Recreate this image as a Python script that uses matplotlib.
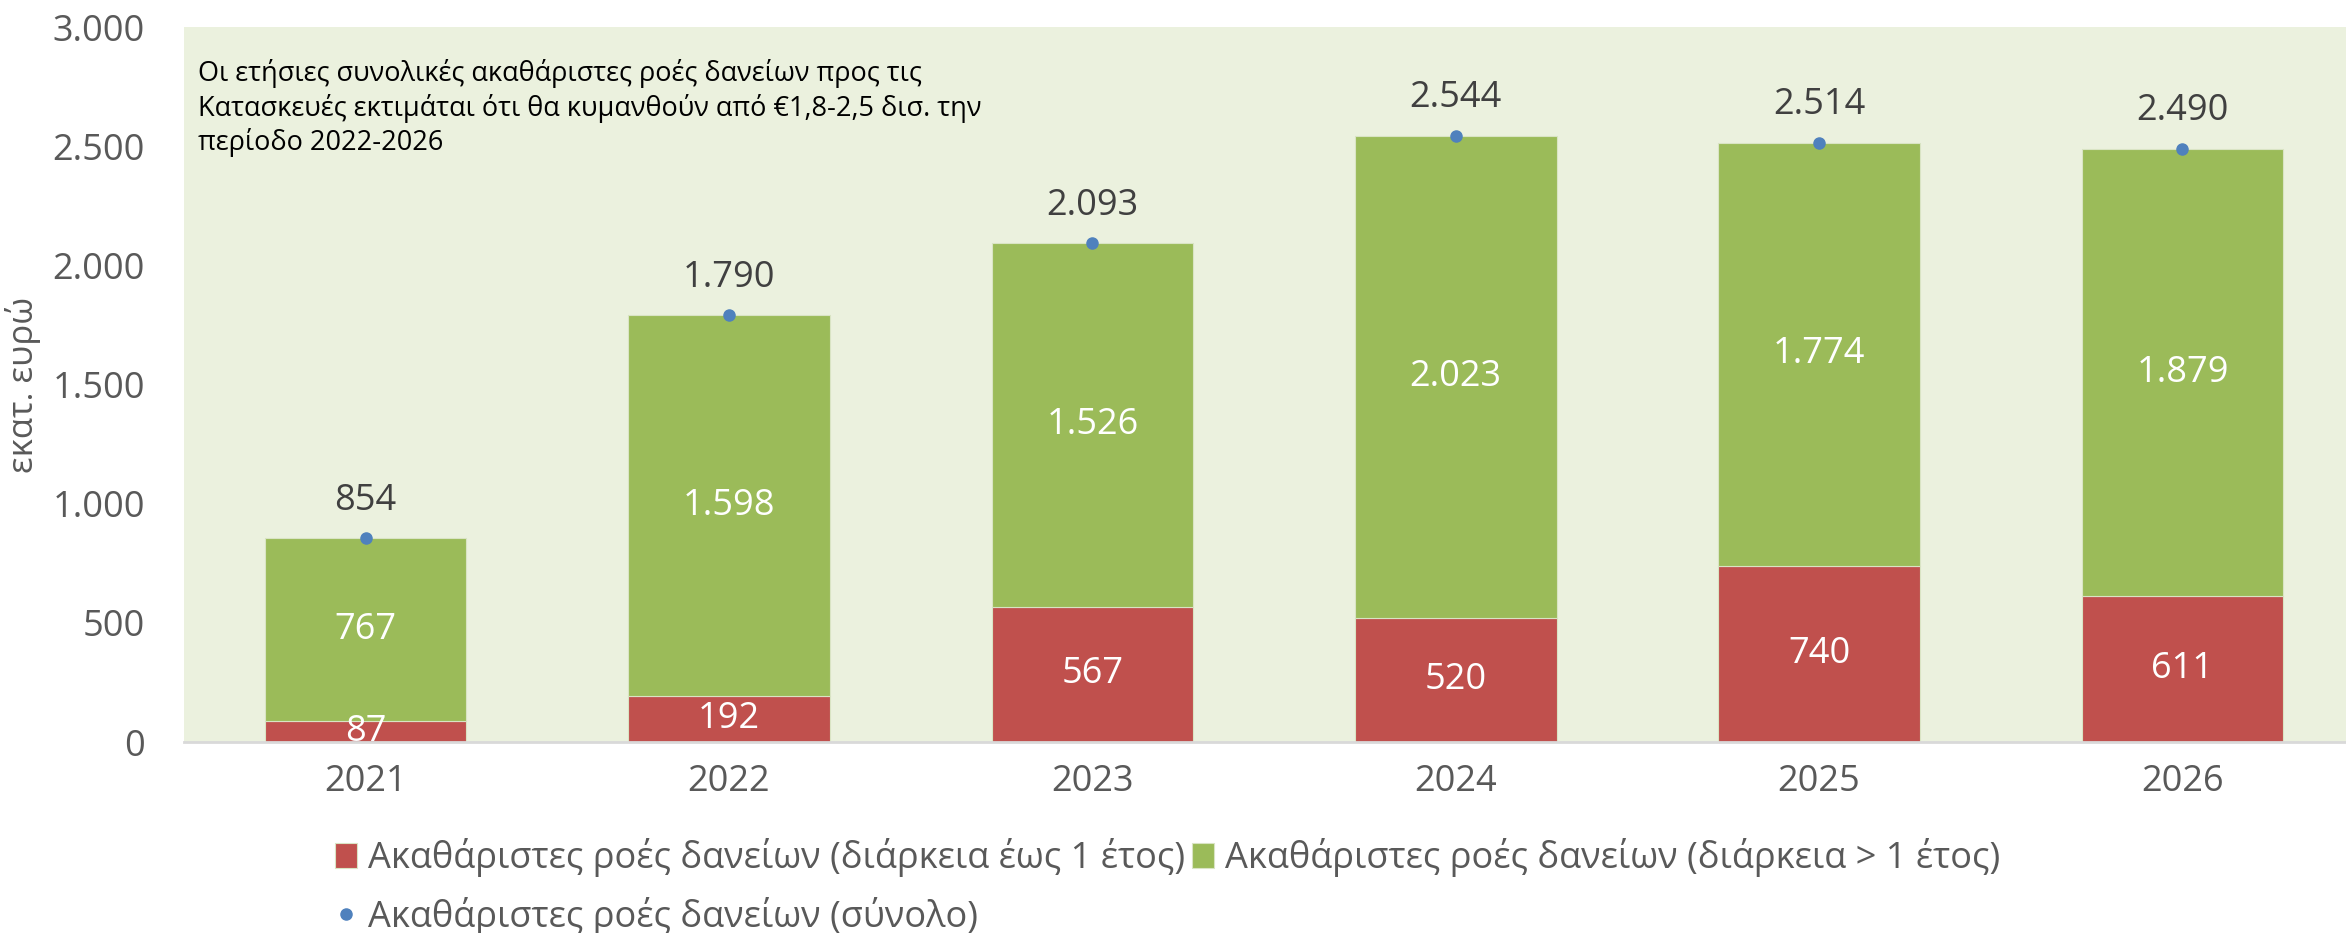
import numpy as np
import matplotlib
matplotlib.use("Agg")
import matplotlib.pyplot as plt

plt.rcParams['font.family'] = ['Open Sans', 'DejaVu Sans']

# Data
years = ['2021', '2022', '2023', '2024', '2025', '2026']
short_term = [87, 192, 567, 520, 740, 611]
long_term = [767, 1598, 1526, 2023, 1774, 1879]
total = [854, 1790, 2093, 2544, 2514, 2490]
y_ticks = [0, 500, 1000, 1500, 2000, 2500, 3000]

red = '#C0504D'
green = '#9BBB59'
blue = '#4F81BD'
bg = '#EBF1DE'
grey = '#595959'

def fmt(v):
    return f"{v:,}".replace(',', '.')

fig = plt.figure(figsize=(23.46, 9.33), dpi=100)
ax = fig.add_axes([0.0784, 0.2047, 0.9216, 0.7663])
ax.set_facecolor(bg)

x = np.arange(len(years))
w = 0.555
b1 = ax.bar(x, short_term, w, color=red, edgecolor='#d9e4c4', linewidth=0.8,
            label='Ακαθάριστες ροές δανείων (διάρκεια έως 1 έτος)')
b2 = ax.bar(x, long_term, w, bottom=short_term, color=green, edgecolor='#d9e4c4',
            linewidth=0.8, label='Ακαθάριστες ροές δανείων (διάρκεια > 1 έτος)')
pts, = ax.plot(x, total, 'o', color=blue, markersize=8, linestyle='none',
               label='Ακαθάριστες ροές δανείων (σύνολο)')

# segment labels
for i in range(len(years)):
    ax.text(x[i], short_term[i] / 2, fmt(short_term[i]), ha='center', va='center',
            color='white', fontsize=26)
    ax.text(x[i], short_term[i] + long_term[i] / 2, fmt(long_term[i]), ha='center',
            va='center', color='white', fontsize=26)
    ax.annotate(fmt(total[i]), (x[i], total[i]), textcoords='offset points',
                xytext=(0, 27), ha='center', va='center', color='#404040', fontsize=26)

ax.set_xlim(-0.5, 5.45)
ax.set_ylim(0, 3000)
ax.set_yticks(y_ticks)
ax.set_yticklabels([fmt(v) for v in y_ticks])
ax.set_xticks(x)
ax.set_xticklabels(years)
ax.tick_params(axis='both', length=0, labelsize=26, colors=grey)
ax.tick_params(axis='y', pad=28)
ax.tick_params(axis='x', pad=16)
for s in ['top', 'right', 'left']:
    ax.spines[s].set_visible(False)
ax.spines['bottom'].set_color('#d9d9d9')
ax.spines['bottom'].set_linewidth(2)

ax.set_ylabel('εκατ. ευρώ', fontsize=25, color=grey)
ax.yaxis.set_label_coords(-0.066, 0.5)

ax.text(0.0065, 0.955,
        'Οι ετήσιες συνολικές ακαθάριστες ροές δανείων προς τις\n'
        'Κατασκευές εκτιμάται ότι θα κυμανθούν από €1,8-2,5 δισ. την\n'
        'περίοδο 2022-2026',
        transform=ax.transAxes, ha='left', va='top', fontsize=19.5,
        color='black', linespacing=1.25)

fig.legend([b1, pts, b2], [b1.get_label(), pts.get_label(), b2.get_label()],
           loc='upper left', bbox_to_anchor=(0.143, 0.102), ncol=2, frameon=False,
           fontsize=26, labelcolor=grey, handlelength=0.6, handletextpad=0.3,
           columnspacing=0.2, borderpad=0, borderaxespad=0, labelspacing=0.55)

fig.savefig('out.png', dpi=100)
